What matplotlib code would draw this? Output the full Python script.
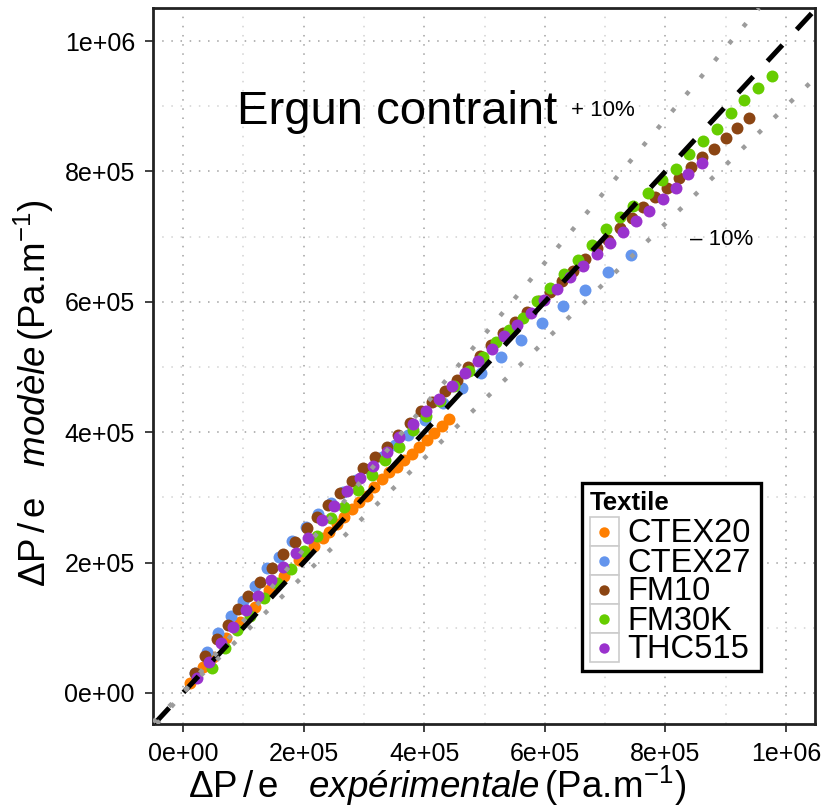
import matplotlib
matplotlib.use("Agg")
import matplotlib.pyplot as plt
import numpy as np
from matplotlib.ticker import MultipleLocator
from matplotlib.patches import Rectangle
from matplotlib.lines import Line2D
from matplotlib.transforms import Affine2D

plt.rcParams['font.family'] = ['Liberation Sans', 'DejaVu Sans']
plt.rcParams['mathtext.fontset'] = 'custom'
plt.rcParams['mathtext.rm'] = 'Liberation Sans'
plt.rcParams['mathtext.it'] = 'Liberation Sans:italic'
plt.rcParams['mathtext.bf'] = 'Liberation Sans:bold'

# valeurs, en milliers de Pa/m
textiles = ['CTEX20', 'CTEX27', 'FM10', 'FM30K', 'THC515']
couleurs = ['#ff7f00', '#6495ed', '#8b4513', '#66cd00', '#9a32cd']

ctex20_x = [11.6, 33.2, 49.7, 71.3, 94.5, 119, 143, 167, 192, 217, 232, 242, 255, 267, 280, 292, 305, 317,
            330, 342, 355, 366, 380, 391, 405, 416, 430, 441]
ctex20_y = [15.3, 39.9, 55.2, 84.4, 109, 132, 158, 179, 204, 225, 238, 247, 259, 270, 282, 293, 302, 316,
            328, 339, 347, 357, 367, 377, 388, 399, 409, 420]

ctex27_x = [19.9, 39.8, 58.0, 79.6, 99.5, 119, 139, 159, 181, 204, 224, 245, 265, 287, 308, 330, 352, 373,
            401, 431, 463, 494, 527, 561, 595, 630, 667, 705, 743]
ctex27_y = [30.7, 62.9, 92.0, 118, 141, 164, 192, 209, 233, 255, 275, 292, 309, 327, 344, 362, 380, 396,
            419, 445, 468, 491, 515, 541, 567, 594, 618, 646, 672]

fm10_x = [19.9, 36.5, 56.4, 74.6, 91.2, 108, 128, 148, 166, 186, 206, 222, 240, 260, 280, 298, 318, 338,
          356, 376, 395, 413, 434, 454, 473, 492, 511, 531, 550, 570, 590, 608, 628, 647, 667, 686, 705,
          725, 744, 763, 783, 802, 822, 842, 860, 880, 900, 918, 938]
fm10_y = [30.7, 56.8, 82.8, 104, 129, 149, 170, 192, 213, 232, 253, 270, 288, 307, 325, 345, 362, 377,
          396, 414, 433, 446, 463, 480, 500, 517, 534, 552, 569, 585, 601, 615, 632, 647, 666, 683, 695,
          713, 729, 746, 761, 775, 790, 807, 822, 834, 851, 867, 882]

fm30k_x = [48.1, 69.6, 89.5, 111, 134, 156, 179, 201, 222, 245, 267, 290, 313, 335, 358, 381, 403, 426,
           449, 474, 498, 519, 541, 564, 587, 609, 632, 655, 678, 701, 725, 746, 771, 794, 818, 839, 862,
           886, 909, 930, 954, 977]
fm30k_y = [38.4, 69.0, 96.6, 118, 146, 169, 190, 218, 241, 268, 285, 311, 334, 357, 377, 403, 425, 448,
           471, 494, 515, 538, 557, 575, 601, 621, 643, 664, 687, 712, 730, 747, 767, 787, 804, 827, 847,
           865, 890, 910, 928, 946]

thc515_x = [23.2, 43.1, 63.0, 82.9, 104, 124, 146, 166, 187, 207, 230, 250, 272, 294, 315, 338, 358, 381,
            403, 424, 446, 468, 489, 512, 532, 554, 577, 599, 620, 642, 663, 687, 708, 730, 751, 773, 796,
            818, 837, 861]
thc515_y = [23.0, 47.6, 76.7, 101, 127, 149, 173, 193, 215, 238, 265, 287, 310, 330, 348, 370, 393, 413,
            433, 451, 471, 491, 509, 528, 548, 565, 583, 603, 620, 638, 655, 673, 690, 707, 724, 739, 758,
            775, 796, 813]

series_x = [ctex20_x, ctex27_x, fm10_x, fm30k_x, thc515_x]
series_y = [ctex20_y, ctex27_y, fm10_y, fm30k_y, thc515_y]

ticks = [0, 2e5, 4e5, 6e5, 8e5, 1e6]
tick_labels = ['0e+00', '2e+05', '4e+05', '6e+05', '8e+05', '1e+06']

fig = plt.figure(figsize=(8.26, 8.10), dpi=100)
ax = fig.add_axes([0.1852, 0.1062, 0.8015, 0.8840])

for xs, ys, c in zip(series_x, series_y, couleurs):
    ax.plot(np.array(xs) * 1e3, np.array(ys) * 1e3, 'o', color=c, markersize=8.6,
            markeredgewidth=0, zorder=2)

# droite y = x et +/- 10 %
ax.axline((0, 0), slope=1.0, color='black', lw=3.6, linestyle=(0, (4.4, 4.2)),
          dash_capstyle='butt', zorder=3)
for pente in [1.1, 0.9]:
    ax.axline((0, 0), slope=pente, color='#9c9c9c', lw=3.2, linestyle=(0, (1, 4.0)),
              dash_capstyle='butt', zorder=3)

ax.set_xlim(-49.7e3, 1048e3)
ax.set_ylim(-47.6e3, 1050.8e3)

ax.set_xticks(ticks)
ax.set_xticklabels(tick_labels, fontsize=18)
ax.set_yticks(ticks)
ax.set_yticklabels(tick_labels, fontsize=18)
ax.xaxis.set_minor_locator(MultipleLocator(1e5))
ax.yaxis.set_minor_locator(MultipleLocator(1e5))
ax.tick_params(which='major', direction='out', length=6, width=1.3, color='#333333', pad=7)
ax.tick_params(which='minor', length=0)

ax.grid(which='major', color='#a0a0a0', linestyle=(0, (1, 5)), lw=1.1)
ax.grid(which='minor', color='#d2d2d2', linestyle=(0, (1, 5)), lw=1.1)
ax.set_axisbelow(True)
for s in ax.spines.values():
    s.set_linewidth(2.0)
    s.set_color('#222222')

ax.set_xlabel(r'$\Delta\mathrm{P}\,/\,\mathrm{e}\quad\mathit{expérimentale}\,\mathrm{(Pa.\!m^{-1})}$',
              fontsize=26.5)
ax.xaxis.set_label_coords(0.429, -0.056)
ax.set_ylabel(r'$\Delta\mathrm{P}\,/\,\mathrm{e}\quad\mathit{modèle}\,\mathrm{(Pa.\!m^{-1})}$', fontsize=26.5)
ax.yaxis.set_label_coords(-0.147, 0.462)

ax.text(89.5e3, 873e3, 'Ergun contraint', fontsize=34, ha='left', va='baseline')
ax.text(643e3, 885e3, '+ 10%', fontsize=16, ha='left', va='baseline')
ax.text(841e3, 687e3, '\u2013 10%', fontsize=16, ha='left', va='baseline')

# légende dessinée en pixels (origine en haut à gauche)
px = Affine2D().scale(1 / 826, -1 / 810).translate(0, 1) + fig.transFigure
fig.add_artist(Rectangle((582, 483), 179, 188, transform=px, facecolor='white',
                         edgecolor='black', lw=2.4, zorder=5))
fig.text(590, 510, 'Textile', transform=px, fontsize=18.5, fontweight='bold',
         ha='left', va='baseline', zorder=6)
for i, (nom, c) in enumerate(zip(textiles, couleurs)):
    yc = 531.5 + 29 * i
    fig.add_artist(Rectangle((589.5, yc - 14.5), 29, 29, transform=px, facecolor='white',
                             edgecolor='#cccccc', lw=1.2, zorder=6))
    fig.add_artist(Line2D([604], [yc], transform=px, marker='o', color=c, markersize=7.5,
                          markeredgewidth=0, zorder=7))
    fig.text(627, yc + 11, nom, transform=px, fontsize=23.5, ha='left', va='baseline', zorder=7)

fig.savefig('out.png', dpi=100)
